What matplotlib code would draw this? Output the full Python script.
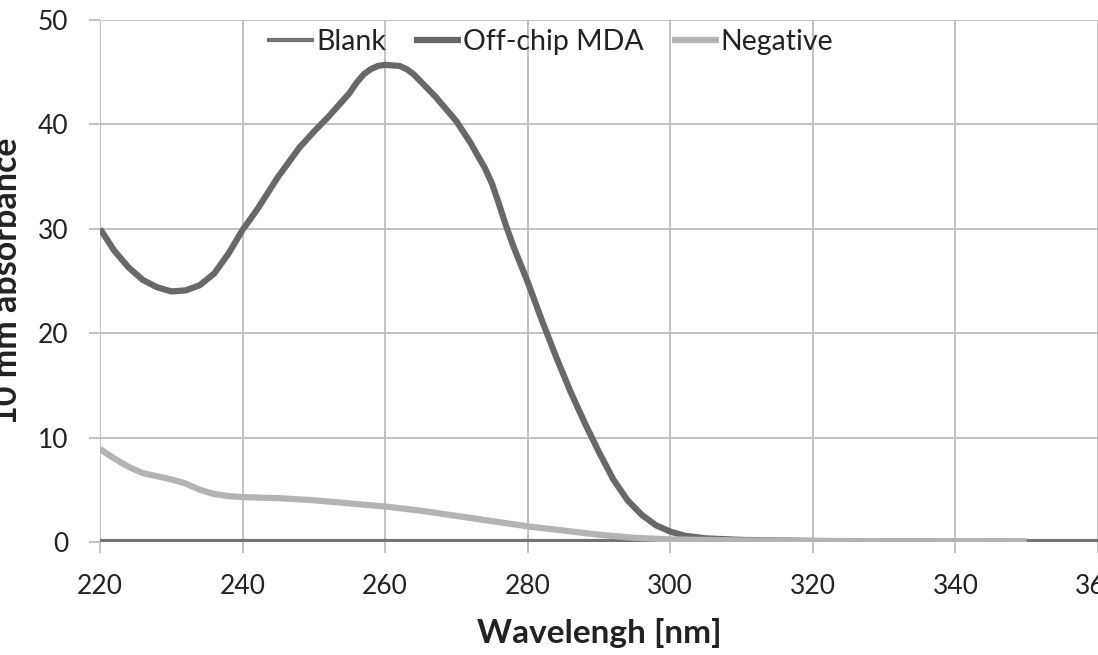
import matplotlib
matplotlib.use('Agg')
import matplotlib.pyplot as plt

plt.rcParams['font.family'] = ['Lato', 'DejaVu Sans']

# Off-chip MDA spectrum
mda_nm = [220, 222, 224, 226, 228, 230, 232, 234, 236, 238, 240, 242, 245, 248,
          250, 252, 255, 256, 257, 258, 259, 260, 262, 263, 264, 265, 267, 270,
          272, 274, 275, 276, 277, 278, 279, 280, 282, 284, 286, 288, 289, 290,
          292, 294, 296, 298, 300, 302, 305, 310, 320, 330, 340, 350]
mda_abs = [30.0, 27.9, 26.3, 25.1, 24.4, 24.0, 24.1, 24.6, 25.7, 27.6, 29.9, 31.8,
           35.0, 37.8, 39.3, 40.7, 43.0, 44.0, 44.8, 45.3, 45.6, 45.7, 45.6, 45.3,
           44.8, 44.1, 42.7, 40.3, 38.2, 35.8, 34.3, 32.3, 30.2, 28.3, 26.6, 24.9,
           21.2, 17.7, 14.4, 11.4, 10.0, 8.6, 6.0, 4.0, 2.6, 1.6, 1.0, 0.6, 0.35,
           0.2, 0.1, 0.05, 0.03, 0.02]

# Negative control
neg_nm = [220, 222, 224, 226, 228, 230, 232, 234, 236, 238, 240, 245, 250, 255,
          260, 265, 270, 275, 280, 285, 290, 295, 300, 310, 320, 330, 340, 350]
neg_abs = [8.9, 8.0, 7.2, 6.6, 6.3, 6.0, 5.6, 5.0, 4.6, 4.4, 4.3, 4.2, 4.0, 3.7,
           3.4, 3.0, 2.5, 2.0, 1.5, 1.1, 0.7, 0.4, 0.25, 0.15, 0.1, 0.08, 0.06, 0.05]

# Blank
blank_nm = [220, 240, 260, 280, 300, 320, 340, 360]
blank_abs = [0.1, 0.1, 0.1, 0.1, 0.1, 0.1, 0.1, 0.1]

x_ticks = [220, 240, 260, 280, 300, 320, 340, 360]
y_ticks = [0, 10, 20, 30, 40, 50]

fig = plt.figure(figsize=(10.98, 6.55), dpi=100)
ax = fig.add_axes([0.0911, 0.1725, 0.9089, 0.797])

ax.plot(blank_nm, blank_abs, color='#737373', lw=3, label='Blank', solid_capstyle='butt')
ax.plot(mda_nm, mda_abs, color='#686868', lw=4.5, label='Off-chip MDA', solid_capstyle='butt')
ax.plot(neg_nm, neg_abs, color='#b3b3b3', lw=4.5, label='Negative', solid_capstyle='butt')

ax.set_xlim(220, 360)
ax.set_ylim(0, 50)
ax.set_xticks(x_ticks)
ax.set_yticks(y_ticks)
ax.grid(True, color='#bdbdbd', lw=1.3)
ax.set_axisbelow(True)
for s in ax.spines.values():
    s.set_visible(False)
ax.tick_params(axis='both', color='#bdbdbd', length=8, width=1.3,
               labelsize=19, labelcolor='#222222')
ax.tick_params(axis='x', pad=15)
ax.tick_params(axis='y', pad=15)

ax.set_xlabel('Wavelengh [nm]', fontsize=24, fontweight='bold', color='#222222', labelpad=14)
ax.set_ylabel('10 mm absorbance', fontsize=24.5, fontweight='bold', color='#222222')
# label sits partly outside the figure, as in the cropped original
ax.yaxis.set_label_coords(-0.077, 0.5)

ax.legend(loc='center', bbox_to_anchor=(0.451, 0.958), ncol=3, frameon=False,
          fontsize=20.5, handlelength=1.65, handletextpad=0.05, columnspacing=1.0,
          labelcolor='#222222')

fig.savefig('out.png', dpi=100)
